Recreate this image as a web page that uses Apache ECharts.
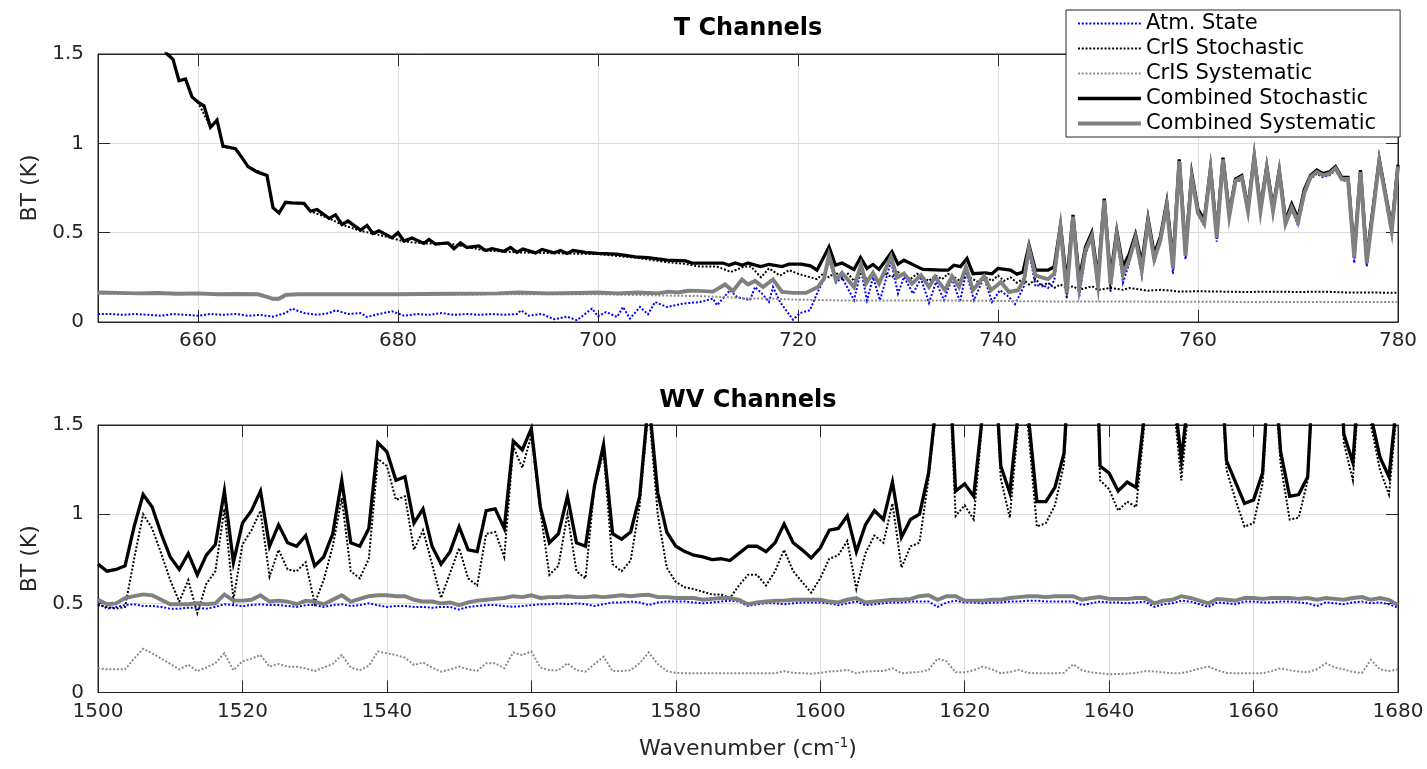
<!DOCTYPE html>
<html><head><meta charset="utf-8">
<script src="https://cdn.jsdelivr.net/npm/echarts@6/dist/echarts.min.js"></script>
<style>html,body{margin:0;padding:0;background:#fff}#c{width:1427px;height:769px}</style>
</head><body><div id="c"></div>
<script>
// ---------------- DATA ----------------
const seriesNames = ['Atm. State','CrIS Stochastic','CrIS Systematic','Combined Stochastic','Combined Systematic'];
const topTitle = 'T Channels';
const bottomTitle = 'WV Channels';
const topXTicks = [660,680,700,720,740,760,780];

// T channels: [wavenumber, BT (K)]
const tAtm = [[650,0.045],[651.25,0.045],[652.5,0.04],[653.75,0.045],[655,0.04],[656.25,0.035],[657.5,0.045],[658.75,0.04],[660,0.035],[661.25,0.045],[662.5,0.04],[663.75,0.045],[665,0.035],[666.25,0.04],[667.5,0.03],[668.75,0.05],[669.4,0.075],[670.6,0.05],[671.9,0.04],[673.1,0.05],[673.75,0.065],[675,0.045],[676.25,0.05],[676.9,0.028],[678.1,0.045],[679.4,0.06],[680.6,0.035],[681.9,0.045],[683.1,0.04],[684.4,0.05],[685.6,0.04],[686.9,0.045],[688.1,0.04],[689.4,0.045],[690.6,0.04],[691.9,0.045],[692.3,0.065],[693.1,0.035],[694.4,0.045],[695.6,0.015],[696.9,0.03],[697.9,0.01],[699.4,0.075],[700,0.032],[700.8,0.056],[701.9,0.028],[702.5,0.084],[703.2,0.019],[704.2,0.084],[705,0.043],[705.7,0.112],[706.9,0.084],[708.5,0.103],[710.2,0.112],[711.5,0.131],[711.9,0.094],[713.2,0.178],[713.9,0.14],[715.2,0.122],[715.7,0.196],[716.4,0.159],[717.1,0.112],[717.5,0.196],[718.2,0.112],[719.5,0.013],[720.2,0.05],[721.2,0.066],[721.9,0.159],[722.6,0.24],[723.1,0.35],[723.8,0.22],[724.4,0.25],[725.6,0.122],[726.3,0.29],[726.9,0.122],[727.5,0.25],[728.2,0.122],[729.3,0.34],[730.0,0.159],[730.6,0.252],[731.5,0.159],[732.3,0.243],[733.1,0.107],[733.8,0.224],[734.6,0.122],[735.4,0.243],[736.2,0.112],[736.8,0.28],[737.6,0.122],[738.6,0.252],[739.4,0.112],[740.2,0.178],[741.1,0.14],[741.7,0.1],[742.6,0.2],[743.1,0.40],[743.75,0.2],[744.375,0.21],[745.0,0.19],[745.625,0.23],[746.25,0.51],[746.875,0.13],[747.5,0.58],[748.125,0.14],[748.75,0.38],[749.375,0.47],[750.0,0.17],[750.625,0.67],[751.25,0.17],[751.875,0.48],[752.5,0.22],[753.125,0.33],[753.75,0.46],[754.375,0.26],[755.0,0.55],[755.625,0.33],[756.25,0.45],[756.875,0.64],[757.5,0.27],[758.125,0.90],[758.75,0.35],[759.375,0.80],[760.0,0.60],[760.625,0.54],[761.25,0.84],[761.875,0.45],[762.5,0.90],[763.125,0.58],[763.75,0.78],[764.375,0.80],[765.0,0.61],[765.625,0.91],[766.25,0.61],[766.875,0.85],[767.5,0.61],[768.125,0.83],[768.75,0.54],[769.375,0.63],[770.0,0.54],[770.625,0.71],[771.25,0.80],[771.875,0.83],[772.5,0.81],[773.125,0.82],[773.75,0.85],[774.375,0.79],[775.0,0.79],[775.625,0.33],[776.25,0.83],[776.875,0.31],[778.125,0.89],[779.375,0.49],[780.0,0.86]];

const tCrisStoch = [[656.25,1.56],[657.5,1.47],[658.1,1.35],[658.75,1.36],[659.4,1.26],[660,1.23],[661.25,1.09],[661.9,1.13],[662.5,0.98],[663.75,0.97],[665,0.87],[666.9,0.82],[667.5,0.64],[668.1,0.61],[668.75,0.67],[670.6,0.66],[671.25,0.62],[673.1,0.58],[674.4,0.545],[676.25,0.51],[677.5,0.495],[679.4,0.47],[680.6,0.45],[682.6,0.44],[685,0.44],[688.75,0.40],[691.9,0.39],[695.6,0.385],[700,0.38],[703.75,0.36],[705,0.35],[706.9,0.335],[708.75,0.325],[710.2,0.31],[711.9,0.31],[713.3,0.28],[714.6,0.31],[715.3,0.31],[716.3,0.25],[717.1,0.30],[718.2,0.26],[719.1,0.29],[720,0.27],[720.6,0.26],[721.9,0.24],[722.5,0.27],[723.1,0.25],[723.75,0.28],[724.4,0.24],[725.0,0.27],[725.6,0.23],[726.25,0.27],[726.9,0.24],[727.5,0.26],[728.1,0.23],[728.75,0.27],[729.4,0.25],[730.0,0.28],[730.6,0.26],[731.25,0.24],[731.9,0.27],[732.5,0.25],[733.1,0.23],[733.75,0.26],[734.4,0.24],[735.0,0.27],[735.6,0.25],[736.25,0.23],[736.9,0.26],[737.5,0.24],[738.1,0.22],[738.75,0.25],[739.4,0.23],[740.0,0.26],[740.6,0.23],[741.25,0.25],[741.9,0.22],[742.5,0.24],[743.1,0.21],[743.75,0.24],[744.4,0.2],[745,0.22],[745.6,0.19],[746.25,0.21],[746.9,0.19],[747.5,0.2],[748.1,0.18],[748.75,0.19],[749.4,0.2],[750,0.18],[750.6,0.185],[751.25,0.19],[752.5,0.18],[753.1,0.19],[754.4,0.18],[755,0.175],[756.25,0.18],[757.5,0.175],[758.1,0.17],[760,0.172],[762.5,0.17],[765,0.168],[767.5,0.17],[770,0.168],[772.5,0.17],[775,0.165],[777.5,0.165],[780,0.163]];

const tCrisSys = [[650,0.158],[655,0.157],[660,0.155],[666.25,0.152],[667.5,0.125],[668.1,0.125],[669,0.15],[675,0.153],[680,0.152],[690,0.155],[700,0.155],[705,0.15],[710,0.145],[712.5,0.14],[715,0.132],[717.5,0.13],[720,0.125],[725,0.12],[730,0.12],[735,0.12],[740,0.118],[745,0.115],[750,0.115],[760,0.113],[770,0.112],[780,0.112]];

const tCombStoch = [[656.25,1.56],[656.9,1.50],[657.5,1.47],[658.1,1.35],[658.75,1.36],[659.4,1.26],[660.0,1.23],[660.6,1.21],[661.25,1.09],[661.9,1.13],[662.5,0.985],[663.75,0.97],[664.4,0.92],[665.0,0.87],[665.9,0.84],[666.9,0.82],[667.5,0.64],[668.1,0.61],[668.75,0.67],[669.4,0.667],[670.6,0.664],[671.25,0.62],[671.9,0.63],[673.1,0.58],[673.75,0.60],[674.4,0.546],[675.0,0.565],[676.25,0.514],[676.9,0.54],[677.5,0.496],[678.1,0.51],[679.4,0.471],[680.0,0.50],[680.6,0.453],[681.4,0.47],[682.6,0.44],[683.1,0.462],[683.75,0.436],[685.0,0.443],[685.6,0.41],[686.25,0.443],[686.9,0.417],[688.1,0.426],[688.75,0.40],[689.4,0.41],[690.6,0.396],[691.25,0.417],[691.9,0.39],[692.5,0.408],[693.75,0.387],[694.4,0.406],[695.6,0.387],[696.25,0.40],[696.9,0.384],[697.5,0.40],[698.75,0.39],[700.0,0.384],[701.9,0.38],[703.75,0.365],[705.0,0.36],[706.9,0.346],[708.75,0.342],[709.4,0.33],[711.25,0.33],[712.5,0.33],[713.1,0.318],[713.75,0.33],[714.4,0.318],[715.0,0.33],[716.25,0.31],[717.1,0.322],[718.4,0.31],[719.1,0.324],[720.3,0.324],[721.25,0.314],[721.9,0.29],[723.1,0.42],[723.75,0.318],[724.4,0.33],[725.6,0.294],[726.25,0.361],[726.9,0.30],[727.5,0.322],[728.1,0.294],[729.4,0.393],[730.0,0.324],[730.6,0.346],[731.9,0.31],[732.5,0.294],[734.4,0.29],[735.0,0.29],[735.6,0.318],[736.25,0.31],[736.9,0.355],[737.5,0.27],[738.75,0.275],[739.4,0.27],[740.0,0.30],[741.25,0.29],[741.9,0.268],[742.5,0.28],[743.1,0.43],[743.75,0.29],[744.375,0.29],[745.0,0.29],[745.625,0.31],[746.25,0.54],[746.875,0.22],[747.5,0.60],[748.125,0.24],[748.75,0.42],[749.375,0.50],[750.0,0.25],[750.625,0.69],[751.25,0.25],[751.875,0.51],[752.5,0.31],[753.125,0.38],[753.75,0.49],[754.375,0.33],[755.0,0.58],[755.625,0.38],[756.25,0.48],[756.875,0.67],[757.5,0.34],[758.125,0.91],[758.75,0.40],[759.375,0.83],[760.0,0.63],[760.625,0.57],[761.25,0.86],[761.875,0.50],[762.5,0.92],[763.125,0.61],[763.75,0.80],[764.375,0.82],[765.0,0.64],[765.625,0.93],[766.25,0.64],[766.875,0.87],[767.5,0.64],[768.125,0.85],[768.75,0.57],[769.375,0.66],[770.0,0.58],[770.625,0.74],[771.25,0.82],[771.875,0.85],[772.5,0.83],[773.125,0.84],[773.75,0.87],[774.375,0.81],[775.0,0.81],[775.625,0.39],[776.25,0.85],[776.875,0.36],[778.125,0.91],[779.375,0.53],[780.0,0.88]];

const tCombSys = [[650,0.165],[652,0.163],[654,0.16],[656,0.162],[658,0.158],[660,0.16],[662,0.155],[664,0.157],[666,0.155],[666.9,0.14],[667.5,0.13],[668.1,0.13],[668.75,0.152],[670,0.155],[675,0.155],[680,0.155],[685,0.158],[690,0.16],[692,0.165],[695,0.16],[698,0.162],[700,0.165],[702,0.16],[704,0.165],[706,0.16],[707,0.17],[708,0.165],[709,0.175],[710,0.174],[711.5,0.17],[712.7,0.21],[713.5,0.174],[714.4,0.238],[715.0,0.21],[715.7,0.23],[716.5,0.196],[717.5,0.238],[718.4,0.168],[719.5,0.163],[720.8,0.163],[722.0,0.196],[722.6,0.243],[723.1,0.374],[723.8,0.234],[724.4,0.275],[725.6,0.196],[726.3,0.32],[726.8,0.215],[727.5,0.275],[728.1,0.215],[729.3,0.365],[729.9,0.249],[730.6,0.271],[731.4,0.215],[732.3,0.262],[733.1,0.196],[733.7,0.252],[734.7,0.178],[735.4,0.256],[736.1,0.196],[736.8,0.308],[737.5,0.178],[738.6,0.256],[739.3,0.178],[740.3,0.224],[741.1,0.168],[742.0,0.178],[742.6,0.234],[743.1,0.41],[743.75,0.26],[744.375,0.25],[745.0,0.24],[745.625,0.27],[746.25,0.53],[746.875,0.16],[747.5,0.59],[748.125,0.19],[748.75,0.40],[749.375,0.48],[750.0,0.21],[750.625,0.68],[751.25,0.21],[751.875,0.49],[752.5,0.27],[753.125,0.35],[753.75,0.47],[754.375,0.29],[755.0,0.56],[755.625,0.35],[756.25,0.46],[756.875,0.65],[757.5,0.30],[758.125,0.90],[758.75,0.37],[759.375,0.81],[760.0,0.61],[760.625,0.55],[761.25,0.85],[761.875,0.47],[762.5,0.91],[763.125,0.59],[763.75,0.79],[764.375,0.81],[765.0,0.62],[765.625,0.92],[766.25,0.62],[766.875,0.86],[767.5,0.62],[768.125,0.84],[768.75,0.55],[769.375,0.64],[770.0,0.56],[770.625,0.72],[771.25,0.81],[771.875,0.84],[772.5,0.82],[773.125,0.83],[773.75,0.86],[774.375,0.80],[775.0,0.80],[775.625,0.36],[776.25,0.84],[776.875,0.33],[778.125,0.90],[779.375,0.51],[780.0,0.87]];

// WV channels: wavenumbers and BT (K) per series
const wnWV = [1500,1501.25,1502.5,1503.75,1505,1506.25,1507.5,1508.75,
1510,1511.25,1512.5,1513.75,1515,1516.25,1517.5,1518.75,
1520,1521.25,1522.5,1523.75,1525,1526.25,1527.5,1528.75,
1530,1531.25,1532.5,1533.75,1535,1536.25,1537.5,1538.75,
1540,1541.25,1542.5,1543.75,1545,1546.25,1547.5,1548.75,
1550,1551.25,1552.5,1553.75,1555,1556.25,1557.5,1558.75,
1560,1561.25,1562.5,1563.75,1565,1566.25,1567.5,1568.75,
1570,1571.25,1572.5,1573.75,1575,1576.25,1577.5,1578.75,
1580,1581.25,1582.5,1583.75,1585,1586.25,1587.5,1588.75,
1590,1591.25,1592.5,1593.75,1595,1596.25,1597.5,1598.75,
1600,1601.25,1602.5,1603.75,1605,1606.25,1607.5,1608.75,
1610,1611.25,1612.5,1613.75,1615,1616.25,1617.5,1618.75,
1620,1621.25,1622.5,1623.75,1625,1626.25,1627.5,1628.75,
1630,1631.25,1632.5,1633.75,1635,1636.25,1637.5,1638.75,
1640,1641.25,1642.5,1643.75,1645,1646.25,1647.5,1648.75,
1650,1651.25,1652.5,1653.75,1655,1656.25,1657.5,1658.75,
1660,1661.25,1662.5,1663.75,1665,1666.25,1667.5,1668.75,
1670,1671.25,1672.5,1673.75,1675,1676.25,1677.5,1678.75,1680];

const wvAtm = [0.50,0.47,0.48,0.49,0.495,0.485,0.485,0.48,
0.47,0.47,0.475,0.475,0.47,0.48,0.495,0.49,
0.485,0.49,0.495,0.49,0.49,0.485,0.48,0.49,
0.49,0.48,0.49,0.495,0.485,0.49,0.50,0.49,
0.48,0.485,0.485,0.48,0.48,0.475,0.48,0.48,
0.465,0.48,0.485,0.49,0.49,0.485,0.48,0.485,
0.49,0.495,0.495,0.50,0.495,0.50,0.495,0.485,
0.495,0.505,0.505,0.51,0.505,0.49,0.505,0.51,
0.51,0.51,0.505,0.50,0.505,0.51,0.515,0.51,
0.485,0.495,0.50,0.50,0.495,0.50,0.505,0.505,
0.505,0.50,0.49,0.50,0.51,0.49,0.495,0.50,
0.505,0.505,0.51,0.51,0.51,0.48,0.505,0.515,
0.505,0.505,0.50,0.505,0.505,0.51,0.51,0.515,
0.515,0.51,0.51,0.51,0.51,0.49,0.50,0.51,
0.505,0.505,0.50,0.505,0.51,0.48,0.495,0.50,
0.515,0.51,0.495,0.48,0.505,0.50,0.495,0.51,
0.51,0.505,0.505,0.51,0.51,0.505,0.50,0.485,
0.505,0.50,0.495,0.505,0.51,0.50,0.505,0.495,0.475];

const wvCrisStoch = [0.49,0.48,0.47,0.48,0.75,1.00,0.92,0.78,
0.63,0.51,0.63,0.445,0.61,0.68,1.03,0.52,
0.83,0.91,1.02,0.65,0.80,0.69,0.68,0.73,
0.50,0.63,0.82,1.09,0.68,0.64,0.75,1.31,
1.27,1.08,1.10,0.80,0.91,0.72,0.53,0.67,
0.81,0.64,0.60,0.89,0.90,0.76,1.38,1.26,
1.44,1.02,0.66,0.71,1.00,0.68,0.64,1.16,
1.35,0.72,0.68,0.74,1.05,1.60,1.00,0.70,
0.62,0.59,0.58,0.565,0.55,0.55,0.53,0.60,
0.66,0.66,0.60,0.68,0.80,0.68,0.62,0.56,
0.64,0.75,0.77,0.85,0.58,0.78,0.88,0.84,
1.06,0.70,0.82,0.84,1.20,1.65,2.10,0.99,
1.05,0.97,1.55,2.10,1.20,0.98,1.55,1.50,
0.93,0.95,1.05,1.28,2.10,2.40,2.90,1.19,
1.14,1.02,1.07,1.04,1.55,2.40,2.40,1.70,
1.19,1.70,2.40,2.40,2.10,1.25,1.08,0.93,
0.95,1.17,2.00,1.28,0.97,0.98,1.19,2.10,
2.40,2.40,1.40,1.19,1.95,1.50,1.25,1.11,1.65];

const wvCrisSys = [0.136,0.13,0.13,0.13,0.19,0.245,0.22,0.19,
0.16,0.13,0.155,0.12,0.14,0.165,0.22,0.125,
0.175,0.19,0.21,0.145,0.16,0.145,0.145,0.135,
0.12,0.14,0.16,0.21,0.14,0.125,0.15,0.23,
0.22,0.21,0.195,0.155,0.168,0.14,0.117,0.13,
0.145,0.13,0.121,0.164,0.164,0.136,0.225,0.21,
0.23,0.14,0.125,0.125,0.164,0.125,0.117,0.16,
0.20,0.12,0.12,0.125,0.164,0.225,0.16,0.12,
0.11,0.108,0.108,0.108,0.108,0.108,0.108,0.108,
0.108,0.108,0.108,0.108,0.12,0.11,0.108,0.105,
0.11,0.118,0.12,0.127,0.108,0.118,0.12,0.12,
0.136,0.108,0.112,0.115,0.127,0.19,0.175,0.113,
0.113,0.125,0.145,0.13,0.108,0.115,0.127,0.11,
0.108,0.108,0.108,0.11,0.158,0.125,0.113,0.108,
0.102,0.104,0.106,0.11,0.12,0.118,0.113,0.108,
0.108,0.12,0.135,0.145,0.125,0.11,0.108,0.108,
0.108,0.108,0.12,0.136,0.125,0.118,0.113,0.13,
0.164,0.14,0.13,0.115,0.11,0.183,0.13,0.12,0.13];

const wvCombStoch = [0.72,0.68,0.69,0.71,0.93,1.11,1.04,0.89,
0.76,0.69,0.78,0.66,0.77,0.83,1.13,0.73,
0.95,1.02,1.13,0.82,0.94,0.84,0.82,0.88,
0.71,0.76,0.89,1.19,0.84,0.82,0.92,1.40,
1.35,1.19,1.21,0.95,1.03,0.82,0.72,0.79,
0.93,0.80,0.79,1.02,1.03,0.92,1.41,1.36,
1.48,1.04,0.84,0.89,1.10,0.84,0.82,1.16,
1.39,0.89,0.86,0.90,1.10,1.65,1.12,0.90,
0.82,0.79,0.77,0.76,0.745,0.75,0.74,0.78,
0.82,0.82,0.79,0.84,0.945,0.84,0.80,0.755,
0.81,0.91,0.92,0.99,0.79,0.94,1.02,0.97,
1.18,0.87,0.97,1.00,1.23,1.69,2.13,1.13,
1.17,1.10,1.57,2.16,1.27,1.12,1.60,1.58,
1.07,1.07,1.15,1.34,2.20,2.50,3.00,1.27,
1.23,1.13,1.18,1.15,1.60,2.50,2.50,1.75,
1.31,1.75,2.50,2.50,2.20,1.30,1.18,1.06,
1.08,1.23,2.05,1.35,1.10,1.11,1.21,2.20,
2.50,2.50,1.45,1.29,2.00,1.55,1.32,1.21,1.70];

const wvCombSys = [0.52,0.495,0.50,0.53,0.54,0.55,0.545,0.52,
0.495,0.495,0.495,0.50,0.495,0.50,0.55,0.515,
0.515,0.52,0.545,0.51,0.515,0.51,0.495,0.515,
0.51,0.495,0.52,0.545,0.51,0.525,0.54,0.545,
0.545,0.54,0.54,0.52,0.51,0.51,0.50,0.505,
0.49,0.505,0.515,0.52,0.525,0.53,0.54,0.535,
0.545,0.53,0.535,0.535,0.54,0.535,0.535,0.54,
0.535,0.54,0.545,0.54,0.545,0.548,0.535,0.535,
0.53,0.53,0.53,0.52,0.525,0.53,0.53,0.52,
0.495,0.505,0.51,0.515,0.515,0.52,0.52,0.52,
0.52,0.51,0.505,0.52,0.53,0.505,0.51,0.515,
0.52,0.52,0.525,0.54,0.545,0.52,0.54,0.54,
0.515,0.515,0.515,0.52,0.52,0.53,0.535,0.54,
0.54,0.535,0.54,0.54,0.54,0.52,0.53,0.535,
0.525,0.525,0.525,0.53,0.53,0.50,0.515,0.52,
0.54,0.53,0.515,0.50,0.525,0.52,0.515,0.53,
0.53,0.525,0.53,0.53,0.53,0.525,0.53,0.52,
0.53,0.525,0.52,0.53,0.535,0.52,0.53,0.52,0.49];

// ---------------- CHART ----------------
const FONT = 'DejaVu Sans';
const AX = '#262626';
const GRIDC = '#dcdcdc';
const lineStyles = [
  {color:'#0000ff', width:2, type:[2,1.8]},
  {color:'#000000', width:2, type:[2,1.8]},
  {color:'#8c8c8c', width:2, type:[2,1.8]},
  {color:'#000000', width:3.3, type:'solid'},
  {color:'#808080', width:3.9, type:'solid'}
];
const topData = [tAtm, tCrisStoch, tCrisSys, tCombStoch, tCombSys];
const wvData = [wvAtm, wvCrisStoch, wvCrisSys, wvCombStoch, wvCombSys].map(v => wnWV.map((w,i)=>[w, v[i]]));

function mkSeries(data, idx, ax) {
  const s = lineStyles[idx];
  return {
    type:'line', name: seriesNames[idx], data: data,
    xAxisIndex: ax, yAxisIndex: ax,
    symbol:'none', showSymbol:false, clip:true, animation:false, silent:true,
    color: s.color,
    lineStyle:{color:s.color, width:s.width, type:s.type, join:'miter', cap:'butt'},
    z: 2 + idx
  };
}
const series = [];
topData.forEach((d,i)=>series.push(mkSeries(d,i,0)));
wvData.forEach((d,i)=>series.push(mkSeries(d,i,1)));

const plain = v => String(v);
const tickLabel = {fontFamily:FONT, fontSize:20, color:AX, formatter:plain};
function xMain(grid, min, max, extra) {
  return Object.assign({
    gridIndex:grid, type:'value', min:min, max:max, position:'bottom',
    axisLine:{show:true, onZero:false, lineStyle:{color:AX, width:1}},
    axisTick:{show:true, inside:true, length:12, lineStyle:{color:AX, width:1}},
    axisLabel:Object.assign({margin:9}, tickLabel),
    splitLine:{show:true, lineStyle:{color:GRIDC, width:1}}
  }, extra || {});
}
function xTop(grid, min, max, extra) {
  return Object.assign({
    gridIndex:grid, type:'value', min:min, max:max, position:'top',
    axisLine:{show:true, onZero:false, lineStyle:{color:AX, width:1}},
    axisTick:{show:true, inside:true, length:12, lineStyle:{color:AX, width:1}},
    axisLabel:{show:false}, splitLine:{show:false}
  }, extra || {});
}
function yMain(grid) {
  return {
    gridIndex:grid, type:'value', min:0, max:1.5, interval:0.5, position:'left',
    name:'BT (K)', nameLocation:'middle', nameGap:52,
    nameTextStyle:{fontFamily:FONT, fontSize:22, color:AX},
    axisLine:{show:true, onZero:false, lineStyle:{color:AX, width:1}},
    axisTick:{show:true, inside:true, length:12, lineStyle:{color:AX, width:1}},
    axisLabel:Object.assign({margin:14}, tickLabel),
    splitLine:{show:true, lineStyle:{color:GRIDC, width:1}}
  };
}
function yRight(grid) {
  return {
    gridIndex:grid, type:'value', min:0, max:1.5, interval:0.5, position:'right',
    axisLine:{show:true, onZero:false, lineStyle:{color:AX, width:1}},
    axisTick:{show:true, inside:true, length:12, lineStyle:{color:AX, width:1}},
    axisLabel:{show:false}, splitLine:{show:false}
  };
}

const option = {
  backgroundColor:'#ffffff',
  animation:false,
  title:[
    {text:topTitle, left:748, top:17, textAlign:'center', padding:0,
     textStyle:{fontFamily:FONT, fontSize:24, fontWeight:'bold', color:'#000'}},
    {text:bottomTitle, left:748, top:389, textAlign:'center', padding:0,
     textStyle:{fontFamily:FONT, fontSize:24, fontWeight:'bold', color:'#000'}}
  ],
  legend:{
    orient:'vertical', left:1066, top:10,
    data: seriesNames,
    itemWidth:63, itemHeight:14, itemGap:4,
    padding:[3,24,3,10],
    backgroundColor:'#ffffff', borderColor:AX, borderWidth:1, borderRadius:0,
    lineStyle:{width:'inherit'},
    itemStyle:{opacity:0, borderWidth:0},
    textStyle:{fontFamily:FONT, fontSize:21, color:'#000', lineHeight:21},
    selectedMode:false, z:10
  },
  grid:[
    {left:98, top:54, width:1300, height:268, show:true, borderColor:AX, borderWidth:1, backgroundColor:'transparent', containLabel:false},
    {left:98, top:425, width:1300, height:267.5, show:true, borderColor:AX, borderWidth:1, backgroundColor:'transparent', containLabel:false}
  ],
  xAxis:[
    xMain(0, 650, 780, {axisTick:{show:true, inside:true, length:12, customValues:topXTicks, lineStyle:{color:AX, width:1}},
                         axisLabel:Object.assign({margin:9, customValues:topXTicks}, tickLabel)}),
    xMain(1, 1500, 1680, {interval:20,
      name:'Wavenumber (cm{sup|-1})', nameLocation:'middle', nameGap:44,
      nameTextStyle:{fontFamily:FONT, fontSize:22, color:AX, lineHeight:26,
        rich:{sup:{fontFamily:FONT, fontSize:14, color:AX, verticalAlign:'top', lineHeight:26, padding:[0,0,10,0]}}}}),
    xTop(0, 650, 780, {axisTick:{show:true, inside:true, length:12, customValues:topXTicks, lineStyle:{color:AX, width:1}}}),
    xTop(1, 1500, 1680, {interval:20})
  ],
  yAxis:[ yMain(0), yMain(1), yRight(0), yRight(1) ],
  series: series
};
const chart = echarts.init(document.getElementById('c'), null, {renderer:'canvas'});
chart.setOption(option);
</script></body></html>
